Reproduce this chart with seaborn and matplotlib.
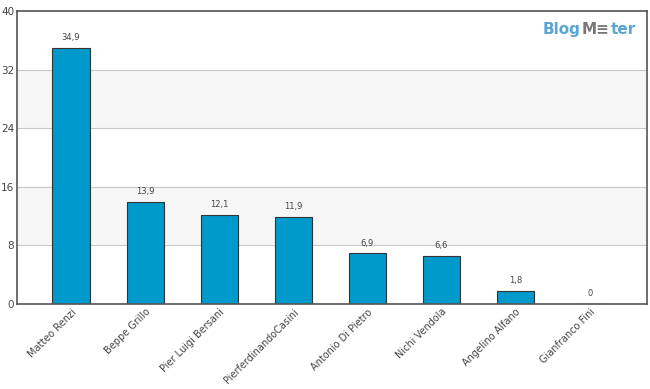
import matplotlib
matplotlib.use("Agg")
import matplotlib.pyplot as plt
import seaborn as sns
import pandas as pd

names = ["Matteo Renzi", "Beppe Grillo", "Pier Luigi Bersani", "PierferdinandoCasini",
         "Antonio Di Pietro", "Nichi Vendola", "Angelino Alfano", "Gianfranco Fini"]
values = [34.9, 13.9, 12.1, 11.9, 6.9, 6.6, 1.8, 0]
yticks = [0, 8, 16, 24, 32, 40]

df = pd.DataFrame({"name": names, "value": values})

sns.set_style("white")
plt.rcParams["font.family"] = ["DejaVu Sans"]

fig = plt.figure(figsize=(6.5, 3.89), dpi=100)
ax = fig.add_axes([0.026, 0.2185, 0.969, 0.7535])

# alternating bands
for lo, hi in [(8, 16), (24, 32)]:
    ax.axhspan(lo, hi, color="#f6f6f6", zorder=0)
for y in yticks[1:-1]:
    ax.axhline(y, color="#c8c8c8", lw=0.8, zorder=1)

sns.barplot(data=df, x="name", y="value", color="#0099cc", saturation=1,
            width=0.5, edgecolor="#333333", linewidth=0.8, ax=ax, zorder=2)

for i, v in enumerate(values):
    ax.text(i, v + 0.8, f"{v:g}".replace(".", ","), ha="center", va="bottom",
            fontsize=6, color="#444444")

ax.set_xlim(-0.73, 7.77)
ax.set_ylim(0, 40)
ax.set_yticks(yticks)
ax.set_yticklabels([str(t) for t in yticks], fontsize=7.5, color="#444444")
ax.tick_params(axis="y", length=0, pad=2)
ax.tick_params(axis="x", length=0, pad=2)
ax.set_xticks(range(len(names)))
ax.set_xticklabels(names, rotation=45, ha="right", rotation_mode="anchor",
                   fontsize=7, color="#444444")
ax.set_xlabel("")
ax.set_ylabel("")
for s in ax.spines.values():
    s.set_color("#555555")
    s.set_linewidth(1.2)

# logo, pieces placed side by side
renderer = fig.canvas.get_renderer()
x = 543
for piece, col in [("Blog", "#5aa4d6"), ("M\u2261", "#777777"), ("ter", "#5aa4d6")]:
    t = fig.text(x / 650, 0.925, piece, color=col, fontsize=11, fontweight="bold",
                 ha="left", va="center")
    x = t.get_window_extent(renderer).x1 + 1

fig.savefig("out.png", dpi=100)
